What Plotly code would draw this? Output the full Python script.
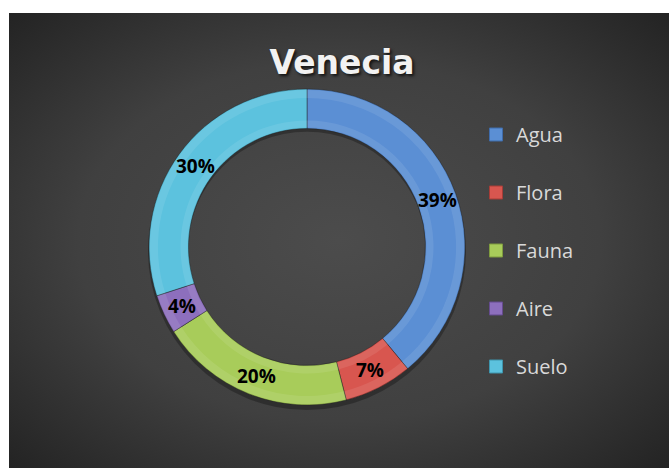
import base64
import math
import plotly.graph_objects as go

# ---- data ----
categories = ["Agua", "Flora", "Fauna", "Aire", "Suelo"]
values = [39, 7, 20, 4, 30]
colors = ["#5b8fd4", "#d8564f", "#a8cc5a", "#8d6fbd", "#5cc2de"]
edge_colors = ["#3f6cab", "#a63c37", "#7f9c3e", "#654b8f", "#3e95ad"]
title_text = "Venecia"

W, H = 669, 468
CX, CY, R_OUT, HOLE = 307, 247, 158, 0.75

# radial gradient background panel (as svg image)
svg = ('<svg xmlns="http://www.w3.org/2000/svg" width="660" height="455" '
       'viewBox="0 0 660 455" preserveAspectRatio="none"><defs>'
       '<radialGradient id="g" cx="50%" cy="50%" r="72%">'
       '<stop offset="0" stop-color="#4c4c4c"/>'
       '<stop offset="0.55" stop-color="#404040"/>'
       '<stop offset="1" stop-color="#222222"/>'
       '</radialGradient></defs>'
       '<rect width="660" height="455" fill="url(#g)"/></svg>')
uri = "data:image/svg+xml;base64," + base64.b64encode(svg.encode()).decode()


def dom(r, dy=0):
    return dict(x=[(CX - r) / W, (CX + r) / W],
                y=[1 - (CY + dy + r) / H, 1 - (CY + dy - r) / H])


fig = go.Figure()

# soft shadow under the ring
fig.add_trace(go.Pie(
    values=[1], hole=HOLE, sort=False, textinfo="none", hoverinfo="skip",
    marker=dict(colors=["rgba(0,0,0,0.28)"], line=dict(width=0)),
    domain=dom(R_OUT + 1, dy=4), showlegend=False,
))

fig.add_trace(go.Pie(
    labels=categories,
    values=values,
    hole=HOLE,
    sort=False,
    direction="clockwise",
    rotation=0,
    marker=dict(colors=colors, line=dict(color="rgba(30,30,30,0.45)", width=1)),
    textinfo="none",
    domain=dom(R_OUT),
    showlegend=False,
    hoverinfo="label+percent",
))

# subtle bevel highlight on the outer and inner edges
fig.add_trace(go.Pie(
    values=values, sort=False, direction="clockwise", hole=(R_OUT - 8) / R_OUT,
    textinfo="none", hoverinfo="skip", showlegend=False,
    marker=dict(colors=["rgba(255,255,255,0.09)"] * len(values),
                line=dict(width=0)),
    domain=dom(R_OUT - 1),
))
r_in = R_OUT * HOLE
fig.add_trace(go.Pie(
    values=values, sort=False, direction="clockwise", hole=(r_in + 1) / (r_in + 8),
    textinfo="none", hoverinfo="skip", showlegend=False,
    marker=dict(colors=["rgba(255,255,255,0.09)"] * len(values),
                line=dict(width=0)),
    domain=dom(r_in + 8),
))

# percentage labels at the middle of each ring segment
total = sum(values)
r_mid = R_OUT * (1 + HOLE) / 2
cum = 0
for v in values:
    a = 2 * math.pi * (cum + v / 2) / total
    cum += v
    fig.add_annotation(
        x=(CX + r_mid * math.sin(a)) / W, y=1 - (CY - r_mid * math.cos(a)) / H,
        xref="paper", yref="paper", showarrow=False,
        xanchor="center", yanchor="middle",
        text=f"{round(100 * v / total)}%",
        font=dict(family="Open Sans", size=19, color="#000000", weight="bold"),
    )

# legend entries (one trace per category so the gap between them can be set)
for i, (c, col) in enumerate(zip(categories, colors)):
    fig.add_trace(go.Scatter(
        x=[None], y=[None], mode="markers", name=c,
        legendgroup=c,
        marker=dict(symbol="square", size=13, color=col,
                    line=dict(color=edge_colors[i], width=1)),
        showlegend=True,
    ))

fig.update_layout(
    width=W, height=H,
    margin=dict(l=0, r=0, t=0, b=0),
    paper_bgcolor="#ffffff",
    plot_bgcolor="rgba(0,0,0,0)",
    xaxis=dict(visible=False),
    yaxis=dict(visible=False),
    images=[dict(source=uri, xref="paper", yref="paper", x=9 / W, y=1 - 13 / H,
                 sizex=1 - 9 / W, sizey=1 - 13 / H, xanchor="left", yanchor="top",
                 sizing="stretch", layer="below")],
    title=dict(text=title_text, x=342 / W, xanchor="center", y=1 - 62 / H,
               yanchor="middle",
               font=dict(family="DejaVu Sans", size=33, color="#f2f2f2", weight="bold",
                         shadow="2px 2px 3px rgba(0,0,0,0.7)")),
    legend=dict(x=476 / W, y=1 - 115 / H, xanchor="left", yanchor="top",
                bgcolor="rgba(0,0,0,0)", traceorder="grouped", tracegroupgap=29,
                font=dict(family="Open Sans", size=20, color="#d9d9d9")),
)

fig.write_html("out.html",
               config={"displayModeBar": False},
               post_script="document.documentElement.style.margin='0';"
                           "document.body.style.margin='0';")
